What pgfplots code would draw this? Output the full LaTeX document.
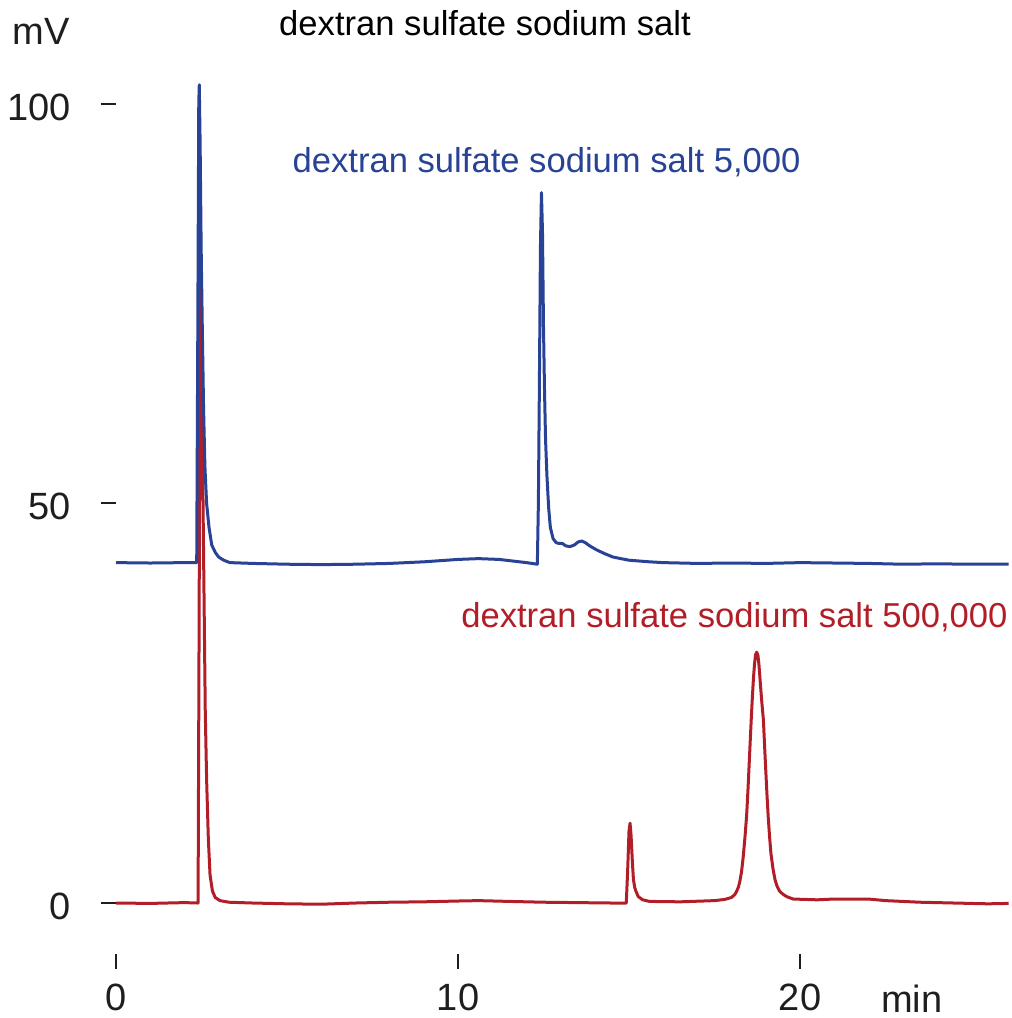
\documentclass[border=0pt]{standalone}
\usepackage{fontspec}
\setmainfont{Liberation Sans}
\usepackage{pgfplots}
\pgfplotsset{compat=1.18}
\definecolor{lowblue}{RGB}{40,66,150}
\definecolor{highred}{RGB}{178,30,40}
\definecolor{axisgray}{RGB}{30,30,30}
\begin{document}
\begin{tikzpicture}
\begin{axis}[
    name=ax,
    scale only axis,
    width=447pt, height=437pt,
    xmin=0, xmax=26.14,
    ymin=-6.38, ymax=103.0,
    axis line style={draw=none},
    tick pos=left,
    tick align=outside,
    major tick length=7.5pt,
    tick style={axisgray, line width=1pt},
    xtick={0,10,20}, ytick={0,50,100},
    /pgf/number format/assume math mode=true,
    ticklabel style={font=\fontsize{19}{22}\selectfont, text=axisgray},
    yticklabel style={xshift=-11.5pt, yshift=-1.5pt},
    xticklabel style={yshift=-4pt},
    clip=false,
]
% 500,000 trace (drawn first, under the other)
\addplot[highred, line width=1.5pt, line join=round] coordinates {
(0,0) (1,-0.05) (2,0.05) (2.40,0) (2.43,35) (2.455,68) (2.475,80) (2.495,74)
(2.52,60) (2.55,48) (2.57,40) (2.61,24) (2.65,15.4) (2.70,8) (2.75,3.5) (2.82,1.5)
(2.9,0.7) (3.04,0.3) (3.3,0.1) (4,0) (5,-0.1) (6,-0.15) (7,0) (8,0.1)
(9,0.15) (10,0.25) (10.6,0.3) (11.5,0.2) (12.5,0.1) (13.5,0.05) (14.5,0)
(14.92,0) (14.96,4) (15.0,9) (15.03,10.0) (15.06,8.5) (15.10,5) (15.13,2.9)
(15.17,1.9) (15.2,1.5) (15.27,0.8) (15.4,0.4) (15.6,0.2) (16.5,0.15) (17.5,0.3)
(17.8,0.45) (18.0,0.7) (18.1,1.1) (18.15,1.5) (18.2,2.0) (18.24,2.7) (18.29,3.9)
(18.34,5.8) (18.39,8.2) (18.44,11.0) (18.48,14.3) (18.52,18) (18.55,20.8)
(18.58,23.5) (18.61,26.0) (18.64,28.2) (18.67,29.9) (18.70,31.1) (18.735,31.4)
(18.77,31.0) (18.80,29.8) (18.84,27.5) (18.88,25.3) (18.93,22.9) (18.965,19.6)
(19.0,16.5) (19.035,13.5) (19.07,10.8) (19.11,8.3) (19.15,6.2) (19.21,4.3)
(19.27,2.9) (19.33,2.1) (19.4,1.5) (19.5,1.1) (19.61,0.8) (19.8,0.5)
(20.5,0.4) (21,0.5) (22,0.5) (22.5,0.3) (23.5,0.1) (24.5,0) (25.5,-0.1) (26.1,-0.05)
};
% 5,000 trace
\addplot[lowblue, line width=1.5pt, line join=round] coordinates {
(0,42.6) (1,42.55) (2,42.6) (2.36,42.6) (2.39,70) (2.42,100) (2.435,102.4)
(2.46,95) (2.49,82) (2.52,73) (2.56,62) (2.60,54.6) (2.65,50) (2.72,47)
(2.80,44.8) (2.9,43.9) (3.0,43.3) (3.15,42.9) (3.33,42.6) (4,42.5)
(5,42.4) (6,42.35) (7,42.4) (8,42.5) (9,42.7) (10,43.0) (10.6,43.1)
(11.2,43.0) (12,42.6) (12.32,42.4) (12.35,50) (12.38,65) (12.41,82)
(12.44,88.9) (12.47,84) (12.50,72) (12.53,64) (12.56,58) (12.60,53.5)
(12.65,49.5) (12.70,47) (12.78,45.6) (12.87,45.1) (12.95,45.0) (13.05,45.0)
(13.15,44.7) (13.27,44.6) (13.4,44.8) (13.52,45.2) (13.62,45.3) (13.72,45.1)
(13.85,44.7) (14.05,44.2) (14.3,43.7) (14.53,43.3) (15,42.9) (15.6,42.7)
(16,42.6) (17,42.5) (18,42.55) (19,42.5) (20,42.6) (21,42.55) (22,42.5)
(23,42.4) (24,42.45) (25,42.4) (26.1,42.4)
};
\node[anchor=base, font=\fontsize{19}{22}\selectfont, text=axisgray]
  at (axis cs:-2.19,107.4) {mV};
\node[anchor=base, font=\fontsize{17.3}{20}\selectfont, text=black]
  at (axis cs:10.79,108.6) {dextran sulfate sodium salt};
\node[anchor=base, font=\fontsize{17.3}{20}\selectfont, text=lowblue]
  at (axis cs:12.59,91.4) {dextran sulfate sodium salt 5,000};
\node[anchor=base east, font=\fontsize{17.3}{20}\selectfont, text=highred, inner sep=0pt]
  at (axis cs:26.08,34.5) {dextran sulfate sodium salt 500,000};
\node[anchor=base, font=\fontsize{19}{22}\selectfont, text=axisgray]
  at (axis cs:23.27,-13.64) {min};
\end{axis}
\pgfresetboundingbox
\path ([shift={(-58pt,-32pt)}]ax.south west) rectangle ([shift={(1pt,40pt)}]ax.north east);
\end{tikzpicture}
\end{document}
